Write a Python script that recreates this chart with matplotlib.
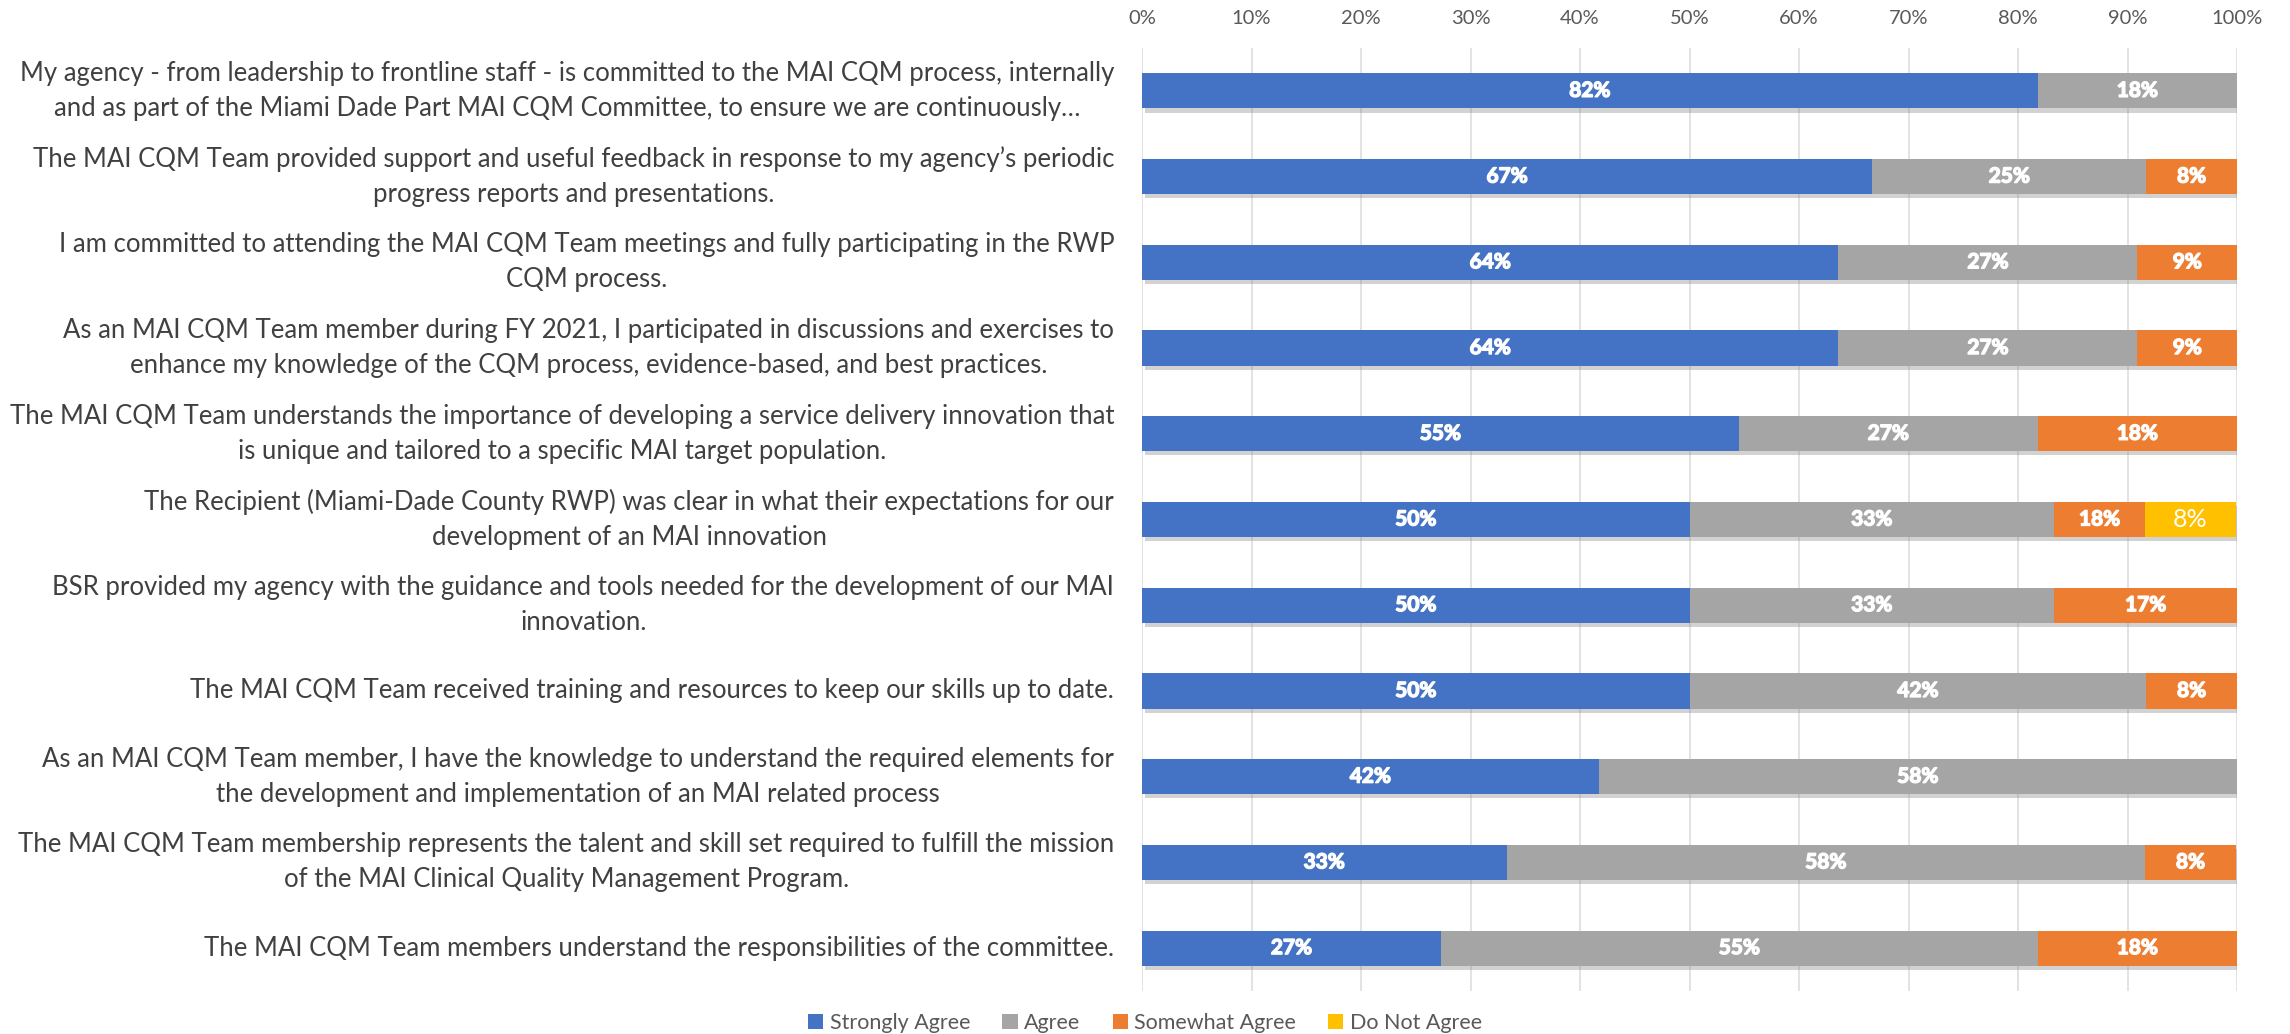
import matplotlib
matplotlib.use("Agg")
import matplotlib.pyplot as plt
import matplotlib.patheffects as pe
from matplotlib.patches import Patch
import numpy as np

plt.rcParams['font.family'] = ['Lato', 'DejaVu Sans']

categories = [
    "My agency - from leadership to frontline staff - is committed to the MAI CQM process, internally\nand as part of the Miami Dade Part MAI CQM Committee, to ensure we are continuously…",
    "The MAI CQM Team provided support and useful feedback in response to my agency’s periodic\nprogress reports and presentations.",
    "I am committed to attending the MAI CQM Team meetings and fully participating in the RWP\nCQM process.",
    "As an MAI CQM Team member during FY 2021, I participated in discussions and exercises to\nenhance my knowledge of the CQM process, evidence-based, and best practices.",
    "The MAI CQM Team understands the importance of developing a service delivery innovation that\nis unique and tailored to a specific MAI target population.",
    "The Recipient (Miami-Dade County RWP) was clear in what their expectations for our\ndevelopment of an MAI innovation",
    "BSR provided my agency with the guidance and tools needed for the development of our MAI\ninnovation.",
    "The MAI CQM Team received training and resources to keep our skills up to date.",
    "As an MAI CQM Team member, I have the knowledge to understand the required elements for\nthe development and implementation of an MAI related process",
    "The MAI CQM Team membership represents the talent and skill set required to fulfill the mission\nof the MAI Clinical Quality Management Program.",
    "The MAI CQM Team members understand the responsibilities of the committee.",
]

series_names = ["Strongly Agree", "Agree", "Somewhat Agree", "Do Not Agree"]
series_colors = ["#4472C4", "#A5A5A5", "#ED7D31", "#FFC000"]

strongly_agree = [81.8, 66.7, 63.6, 63.6, 54.5, 50.0, 50.0, 50.0, 41.7, 33.3, 27.3]
agree          = [18.2, 25.0, 27.3, 27.3, 27.3, 33.3, 33.3, 41.7, 58.3, 58.3, 54.5]
somewhat_agree = [0.0, 8.3, 9.1, 9.1, 18.2, 8.3, 16.7, 8.3, 0.0, 8.3, 18.2]
do_not_agree   = [0.0, 0.0, 0.0, 0.0, 0.0, 8.3, 0.0, 0.0, 0.0, 0.0, 0.0]

strongly_agree_labels = ["82%", "67%", "64%", "64%", "55%", "50%", "50%", "50%", "42%", "33%", "27%"]
agree_labels          = ["18%", "25%", "27%", "27%", "27%", "33%", "33%", "42%", "58%", "58%", "55%"]
somewhat_agree_labels = ["", "8%", "9%", "9%", "18%", "18%", "17%", "8%", "", "8%", "18%"]
do_not_agree_labels   = ["", "", "", "", "", "8%", "", "", "", "", ""]

x_ticks = [0, 10, 20, 30, 40, 50, 60, 70, 80, 90, 100]
x_tick_labels = [f"{t}%" for t in x_ticks]

values = [strongly_agree, agree, somewhat_agree, do_not_agree]
labels = [strongly_agree_labels, agree_labels, somewhat_agree_labels, do_not_agree_labels]

fig = plt.figure(figsize=(22.9, 10.34), dpi=100)
ax = fig.add_axes([0.4987, 0.0416, 0.4782, 0.912])

y = np.arange(len(categories))
left = np.zeros(len(categories))
shadow = [pe.SimplePatchShadow(offset=(2, -3), shadow_rgbFace='#808080', alpha=0.35), pe.Normal()]
fake_bold = [pe.withStroke(linewidth=1.0, foreground='white')]
for si, (vals, labs) in enumerate(zip(values, labels)):
    vals = np.array(vals)
    bars = ax.barh(y, vals, left=left, height=0.41, color=series_colors[si],
                   edgecolor='none', zorder=3)
    for b in bars:
        b.set_path_effects(shadow)
    for i, (v, lab) in enumerate(zip(vals, labs)):
        if lab and v > 0:
            bold = si != 3
            t = ax.text(left[i] + v / 2, y[i], lab, ha='center', va='center',
                        color='white', fontsize=15 if bold else 18,
                        fontweight='bold' if bold else 'normal', zorder=4)
            if bold:
                t.set_path_effects(fake_bold)
    left = left + vals

ax.set_xlim(0, 100)
ax.set_ylim(len(categories) - 0.5, -0.5)
ax.set_yticks(y)
ax.set_yticklabels(categories, fontsize=18.5, color='#404040', linespacing=1.5,
                   multialignment='center', va='center')
ax.tick_params(axis='y', length=0, pad=20)
ax.xaxis.tick_top()
ax.set_xticks(x_ticks)
ax.set_xticklabels(x_tick_labels, fontsize=14.5, color='#595959')
ax.tick_params(axis='x', length=0, pad=15)
ax.grid(axis='x', color='#E0E0E0', linewidth=1.3, zorder=0)
ax.set_axisbelow(True)
for s in ax.spines.values():
    s.set_visible(False)

handles = [Patch(facecolor=c, edgecolor='none') for c in series_colors]
fig.legend(handles, series_names, loc='center', bbox_to_anchor=(0.5, 0.0105),
           ncol=4, frameon=False, fontsize=15.5, handlelength=0.7, handleheight=0.7,
           handletextpad=0.3, columnspacing=1.5, labelcolor='#595959')

fig.savefig("out.png", dpi=100)
